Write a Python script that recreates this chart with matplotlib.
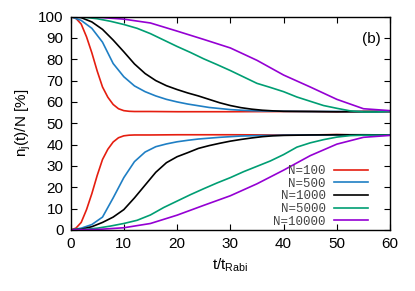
import matplotlib
matplotlib.use('Agg')
import matplotlib.pyplot as plt

# populations (t in units of t_Rabi, values in %)
t_100 = [0, 1, 2, 3, 4, 5, 6, 7, 8, 9, 10, 11, 12, 15, 20, 30, 40, 45, 50, 55, 60]
up_100 = [100, 99.2, 96.5, 90.5, 83, 74.5, 67, 62.2, 58.8, 56.8, 55.9, 55.6, 55.5,
          55.5, 55.4, 55.4, 55.5, 55.5, 55.3, 55.6, 55.5]
lo_100 = [0, 0.8, 3.5, 9.5, 17, 25.5, 33, 37.8, 41.2, 43.2, 44.1, 44.4, 44.5,
          44.5, 44.6, 44.6, 44.5, 44.5, 44.7, 44.4, 44.5]

t_500 = [0, 2, 4, 6, 8, 10, 12, 14, 16, 18, 20, 22, 24, 26, 28, 30, 32, 35, 40, 45, 50, 55, 60]
up_500 = [100, 98.2, 94.5, 88, 78, 71.8, 67.5, 64.8, 62.8, 61.2, 60, 59, 58.2, 57.4,
          56.9, 56.4, 56.1, 55.8, 55.6, 55.5, 55.5, 55.5, 55.5]
lo_500 = [0, 0.8, 2.5, 6, 15, 24.5, 32, 36.5, 39, 40.3, 41.3, 42, 42.6, 43,
          43.4, 43.7, 44, 44.2, 44.4, 44.5, 44.5, 44.5, 44.5]

t_1000 = [0, 2, 4, 6, 8, 10, 12, 14, 16, 18, 20, 22, 24, 26, 28, 30, 32, 34, 36, 38, 40, 45, 50, 55, 60]
up_1000 = [100, 99.5, 97.5, 94, 89, 83.5, 77.8, 73.3, 70, 67.6, 65.8, 64.2, 62.8, 61.2,
           59.6, 58.3, 57.3, 56.6, 56.1, 55.8, 55.6, 55.5, 55.4, 55.4, 55.5]
lo_1000 = [0, 0.3, 1.5, 3.5, 6, 9.5, 15, 21, 27, 31.5, 34.3, 36.2, 38.2, 39.5,
           40.6, 41.6, 42.4, 43.1, 43.7, 44.1, 44.3, 44.5, 44.6, 44.6, 44.5]

t_5000 = [0, 2.5, 5, 7.5, 10, 12.5, 15, 17.5, 20, 22.5, 25, 27.5, 30, 32.5, 35, 37.5,
          40, 42.5, 45, 47.5, 50, 52.5, 55, 57.5, 60]
up_5000 = [100, 99.7, 99, 97.8, 96.3, 94.5, 92, 89, 86, 83.2, 80.2, 77.5, 74.7, 71.7,
           68.7, 66.8, 64.8, 62.3, 60.3, 58.3, 57, 55.8, 55.3, 55.3, 55.6]
lo_5000 = [0, 0.2, 0.8, 1.8, 3, 4.5, 7, 10.5, 13.5, 16.5, 19.3, 22, 24.5, 27.3,
           29.8, 32.3, 35.3, 38.8, 40.8, 42.3, 43.5, 44.2, 44.4, 44.4, 44.4]

t_10000 = [0, 5, 10, 15, 20, 25, 30, 35, 40, 45, 50, 55, 60]
up_10000 = [100, 99.7, 98.8, 97, 93.2, 89.3, 85.3, 79.5, 72.6, 67, 61.2, 56.8, 55.9]
lo_10000 = [0, 0.2, 1, 3, 6.9, 11.5, 16, 21.6, 28, 34.8, 40.2, 43.4, 44.3]

series = [
    ('N=100', t_100, up_100, lo_100, '#e51e10'),
    ('N=500', t_500, up_500, lo_500, '#1f7fc4'),
    ('N=1000', t_1000, up_1000, lo_1000, 'black'),
    ('N=5000', t_5000, up_5000, lo_5000, '#009e73'),
    ('N=10000', t_10000, up_10000, lo_10000, '#9400d3'),
]

plt.rcParams['font.family'] = ['Liberation Sans', 'DejaVu Sans']

fig = plt.figure(figsize=(4.15, 2.91), dpi=100)
ax = fig.add_axes([0.170, 0.210, 0.770, 0.733])

for label, t, up, lo, col in series:
    ax.plot(t, up, color=col, lw=1.2, label=label)
    ax.plot(t, lo, color=col, lw=1.2)

ax.set_xlim(0, 60)
ax.set_ylim(0, 100)
ax.set_xticks(range(0, 61, 10))
ax.set_yticks(range(0, 101, 10))
ax.tick_params(direction='in', top=True, right=True, labelsize=11, length=4,
               width=0.8, pad=5)
for s in ax.spines.values():
    s.set_linewidth(1.0)

ax.set_xlabel(r'$\mathregular{t/t_{Rabi}}$', fontsize=11, labelpad=4)
ax.set_ylabel(r'$\mathregular{n_j(t)/N}$ [%]', fontsize=11, labelpad=4)

ax.text(58.3, 89.4, '(b)', ha='right', va='center', fontsize=11)

leg = ax.legend(loc='lower right', bbox_to_anchor=(0.955, -0.025), frameon=False,
                markerfirst=False, handlelength=2.7, handletextpad=0.7,
                labelspacing=0.05, borderaxespad=0.2,
                prop={'family': 'Liberation Mono', 'size': 9})
for col in leg._legend_handle_box.get_children():
    col.align = 'right'
for txt in leg.get_texts():
    txt.set_color('#444444')

fig.savefig('out.png', dpi=100)
